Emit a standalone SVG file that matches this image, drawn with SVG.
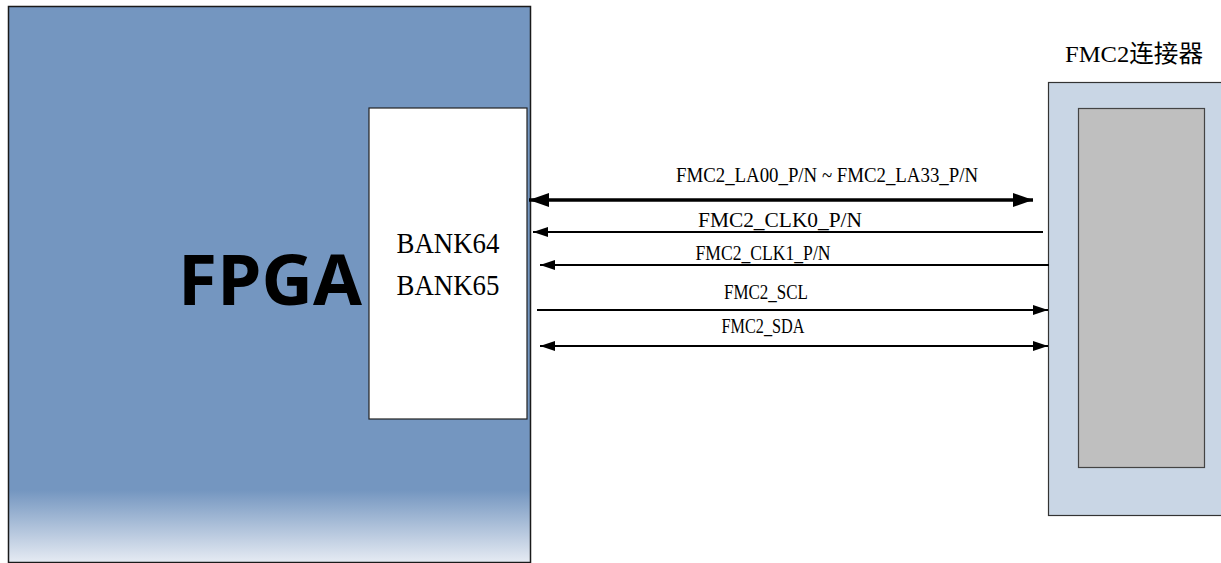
<svg xmlns="http://www.w3.org/2000/svg" width="1221" height="563" viewBox="0 0 1221 563">
<style>
.lbl{font-family:"Liberation Serif","Noto Sans CJK SC",serif;font-size:20px;fill:#000;text-anchor:middle}
.thin{stroke:#000;stroke-width:2;fill:none}
.thick{stroke:#000;stroke-width:3.5;fill:none}
</style>
<defs>
<linearGradient id="fpgaGrad" x1="0" y1="0" x2="0" y2="1">
<stop offset="0" stop-color="#7496c0"/>
<stop offset="0.87" stop-color="#7496c0"/>
<stop offset="1" stop-color="#e6ebf3"/>
</linearGradient>
<marker id="bigEnd" markerUnits="userSpaceOnUse" markerWidth="22" markerHeight="14" refX="20" refY="7" orient="auto">
<path d="M0,0 L20,7 L0,14 Z" fill="#000"/>
</marker>
<marker id="bigStart" markerUnits="userSpaceOnUse" markerWidth="22" markerHeight="14" refX="0" refY="7" orient="auto">
<path d="M20,0 L0,7 L20,14 Z" fill="#000"/>
</marker>
<marker id="smEnd" markerUnits="userSpaceOnUse" markerWidth="16" markerHeight="10" refX="15" refY="5" orient="auto">
<path d="M0,0 L15,5 L0,10 Z" fill="#000"/>
</marker>
<marker id="smStart" markerUnits="userSpaceOnUse" markerWidth="16" markerHeight="10" refX="0" refY="5" orient="auto">
<path d="M15,0 L0,5 L15,10 Z" fill="#000"/>
</marker>
</defs>
<rect width="1221" height="563" fill="#fff"/>

<g id="fpga">
<rect x="8.5" y="6.5" width="522" height="556" fill="url(#fpgaGrad)" stroke="#1a1a1a" stroke-width="1.5"/>
<text x="270" y="305" font-family="'Open Sans','Noto Sans',sans-serif" font-weight="bold" font-size="70" text-anchor="middle" textLength="184" lengthAdjust="spacingAndGlyphs" fill="#000">FPGA</text>
</g>

<g id="bank">
<rect x="369" y="108" width="158" height="311" fill="#fff" stroke="#222" stroke-width="1.2"/>
<text x="448" y="253" font-family="'Liberation Serif',serif" font-size="30" text-anchor="middle" textLength="103" lengthAdjust="spacingAndGlyphs">BANK64</text>
<text x="448" y="295" font-family="'Liberation Serif',serif" font-size="30" text-anchor="middle" textLength="103" lengthAdjust="spacingAndGlyphs">BANK65</text>
</g>

<g id="connector">
<text x="1134" y="62" font-family="'Liberation Serif','Noto Sans CJK SC',serif" font-size="24" text-anchor="middle" textLength="138" lengthAdjust="spacingAndGlyphs">FMC2连接器</text>
<rect x="1048.5" y="82.5" width="175" height="433" fill="#c9d6e5" stroke="#333" stroke-width="1.2"/>
<rect x="1078.5" y="108.5" width="126" height="359" fill="#bfbfbf" stroke="#444" stroke-width="1.2"/>
</g>

<g id="connectors">
<line class="thick" x1="529" y1="200" x2="1033" y2="200" marker-start="url(#bigStart)" marker-end="url(#bigEnd)"/>
<text class="lbl" x="827" y="182" textLength="302" lengthAdjust="spacingAndGlyphs">FMC2_LA00_P/N ~ FMC2_LA33_P/N</text>
<line class="thin" x1="1043" y1="232" x2="533" y2="232" marker-end="url(#smEnd)"/>
<text class="lbl" x="780" y="227" textLength="164" lengthAdjust="spacingAndGlyphs">FMC2_CLK0_P/N</text>
<line class="thin" x1="1049" y1="265" x2="540" y2="265" marker-end="url(#smEnd)"/>
<text class="lbl" x="763" y="260" textLength="135" lengthAdjust="spacingAndGlyphs">FMC2_CLK1_P/N</text>
<line class="thin" x1="537" y1="310" x2="1048" y2="310" marker-end="url(#smEnd)"/>
<text class="lbl" x="766" y="299" textLength="84" lengthAdjust="spacingAndGlyphs">FMC2_SCL</text>
<line class="thin" x1="540" y1="346" x2="1048" y2="346" marker-start="url(#smStart)" marker-end="url(#smEnd)"/>
<text class="lbl" x="763" y="333" textLength="83" lengthAdjust="spacingAndGlyphs">FMC2_SDA</text>
</g>
</svg>
